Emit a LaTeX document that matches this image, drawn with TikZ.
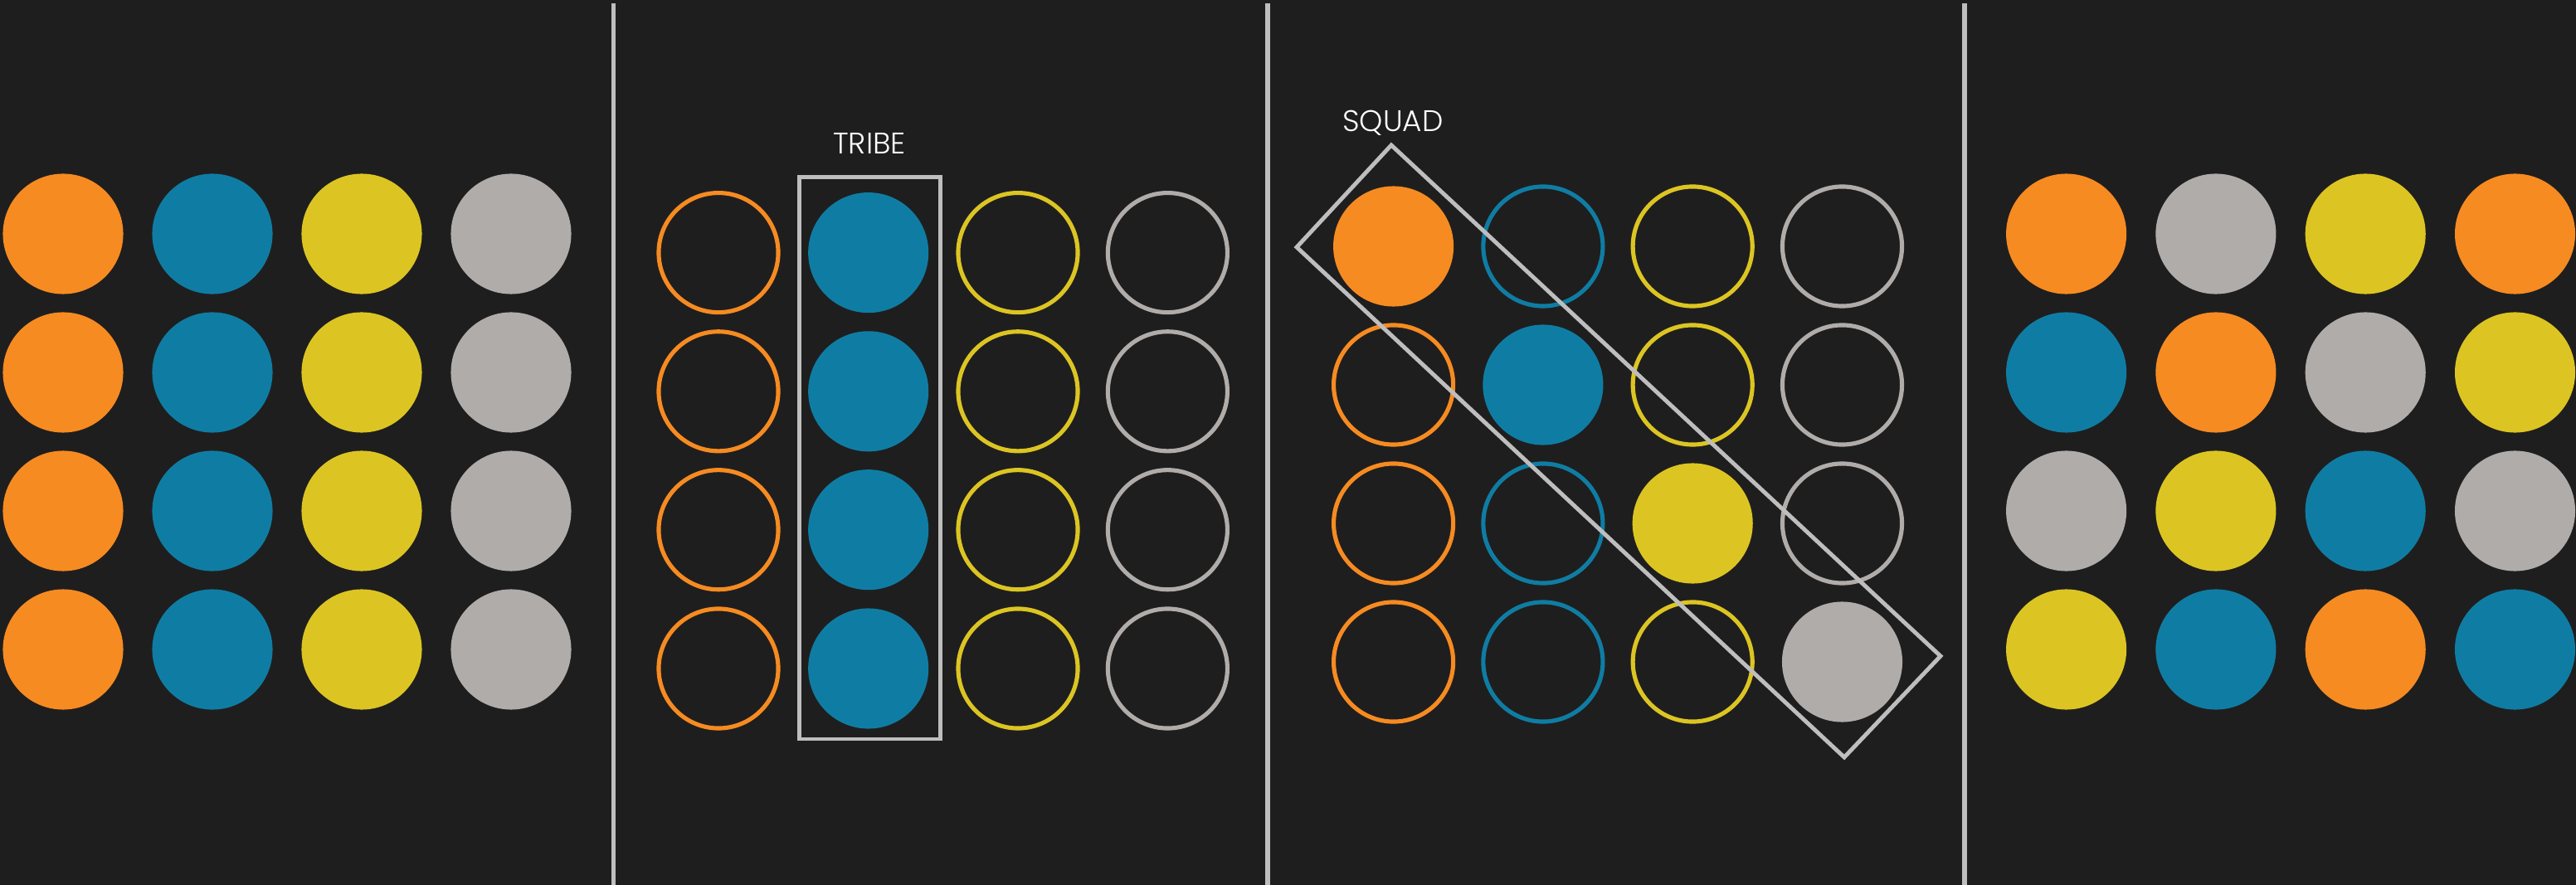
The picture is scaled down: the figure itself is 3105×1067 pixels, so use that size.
\documentclass[tikz,border=0pt]{standalone}
\usepackage{fontspec}
\newfontfamily\lblfont{Poppins Light}
\definecolor{bg}{HTML}{1F1E1F}
\definecolor{cor}{HTML}{F68B21}
\definecolor{cbl}{HTML}{0F7DA3}
\definecolor{cye}{HTML}{DCC522}
\definecolor{cgr}{HTML}{B0ACAA}
\definecolor{linec}{HTML}{BEBEBE}
\begin{document}
\begin{tikzpicture}[x=0.01cm,y=-0.01cm,
  dot/.style={circle,fill=#1,draw=none,minimum size=1.45cm,inner sep=0pt},
  ring/.style={circle,draw=#1,line width=1.45pt,minimum size=1.44cm,inner sep=0pt},
  divider/.style={draw=linec,line width=1.7pt},
  groupbox/.style={draw=linec,line width=1.4pt,line join=miter},
  lbl/.style={text=white,font=\lblfont\fontsize{10.2pt}{12pt}\selectfont,inner sep=0pt,anchor=base}]
  % background and bounding box
  \fill[bg] (0,0) rectangle (3105,1067);
  \useasboundingbox (0,0) rectangle (3105,1067);

  % dividers
  \coordinate (d1t) at (739.5,4);   \coordinate (d1b) at (739.5,1067);
  \coordinate (d2t) at (1528,4);    \coordinate (d2b) at (1528,1067);
  \coordinate (d3t) at (2368,4);    \coordinate (d3b) at (2368,1067);
  \draw[divider] (d1t) -- (d1b);
  \draw[divider] (d2t) -- (d2b);
  \draw[divider] (d3t) -- (d3b);

  % panel 1: all filled, grouped by colour columns
  \foreach \x/\c [count=\i] in {76/cor,256/cbl,436/cye,616/cgr}{
    \foreach \y [count=\j] in {282,449,616,783}{
      \node[dot=\c] (a\j\i) at (\x,\y) {};
    }
  }

  % panel 2: tribe = the blue column
  \foreach \x/\c [count=\i] in {866/cor,1227/cye,1407.4/cgr}{
    \foreach \y [count=\j] in {304.6,471.8,638.7,806}{
      \node[ring=\c] (b\j\i) at (\x,\y) {};
    }
  }
  \foreach \y [count=\j] in {304.6,471.8,638.7,806}{
    \node[dot=cbl] (bt\j) at (1046.7,\y) {};
  }
  \coordinate (tribeA) at (963.5,213.5);
  \coordinate (tribeB) at (1133.5,891);
  \draw[groupbox] (tribeA) rectangle (tribeB);
  \node[lbl] (tribe) at (1048,186) {TRIBE};

  % panel 3: squad = the diagonal
  \foreach \c [count=\i] in {cor,cbl,cye,cgr}{
    \foreach \y [count=\j] in {297,464,631,798}{
      \ifnum\i=\j
        \node[dot=\c] (c\j\i) at ({1679.6+(\i-1)*180.3},\y) {};
      \else
        \node[ring=\c] (c\j\i) at ({1679.6+(\i-1)*180.3},\y) {};
      \fi
    }
  }
  \coordinate (sqT) at (1677,175);
  \coordinate (sqR) at (2339,791);
  \coordinate (sqB) at (2223,913);
  \coordinate (sqL) at (1563,298);
  \draw[groupbox] (sqT) -- (sqR) -- (sqB) -- (sqL) -- cycle;
  \node[lbl] (squad) at (1679,159) {SQUAD};

  % panel 4: mixed
  \foreach \y/\row [count=\j] in {282/{cor,cgr,cye,cor},449/{cbl,cor,cgr,cye},616/{cgr,cye,cbl,cgr},783/{cye,cbl,cor,cbl}}{
    \foreach \c [count=\i] in \row{
      \node[dot=\c] (d\j\i) at ({2490.6+(\i-1)*180.3},\y) {};
    }
  }
\end{tikzpicture}
\end{document}
